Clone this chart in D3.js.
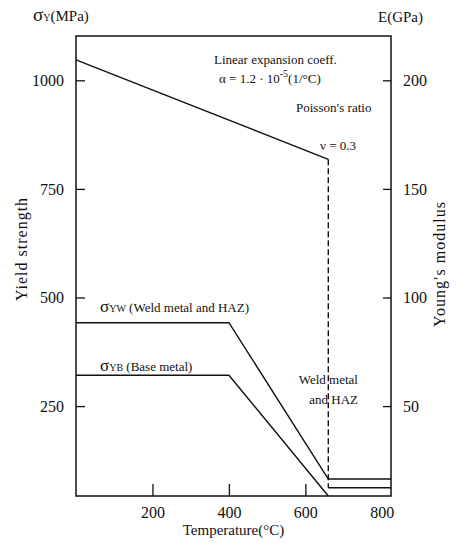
<!DOCTYPE html>
<html>
<head>
  <style>
    body{ margin:0; background:#fff; }
    svg text{ font-family:"Liberation Serif", "Times New Roman", serif; }
    .tick text{ font-size:16px; fill:#111; }
    .tick line{ stroke:#111; stroke-width:1.3; }
    .note{ font-size:13px; fill:#111; }
    .curve{ fill:none; stroke:#111; stroke-width:1.4; }
  </style>
  <script src="https://d3js.org/d3.v7.min.js"></script>
</head>
<body>
<div class="chart"></div>
<script>
// temperature (deg C) and yield strength (MPa)
const weldTemp = [0, 400, 660, 824];
const weldStress = [442, 442, 82, 82];
const baseTemp = [0, 400, 660];
const baseStress = [321, 321, 43];
// Young's modulus (GPa)
const youngTemp = [0, 660];
const youngE = [209.4, 163.6];
const youngDropTemp = [660, 660];
const youngDropE = [163.6, 12.4];
const youngTailTemp = [660, 824];
const youngTailE = [12.4, 12.4];

const tempTicks = [200, 400, 600, 800];
const stressTicks = [250, 500, 750, 1000];
const modulusTicks = [50, 100, 150, 200];

const serif = '"Liberation Serif", "Times New Roman", serif';
const width = 456, height = 559;
const m = {left:76, top:36, right:391, bottom:496};

const svg = d3.select('.chart').append('svg')
  .attr('width', width)
  .attr('height', height)
  .attr('font-family', serif);

const x = d3.scaleLinear().domain([0, 824]).range([m.left, m.right]);
const y = d3.scaleLinear().domain([43, 1102]).range([m.bottom, m.top]);
const yE = d3.scaleLinear().domain([43/5, 1102/5]).range([m.bottom, m.top]);

function tidy(g){
  g.attr('font-family', serif).attr('font-size', 16);
  g.select('.domain').remove();
}

svg.append('g')
  .attr('transform', `translate(0,${m.bottom})`)
  .call(d3.axisBottom(x).tickValues(tempTicks).tickFormat(d3.format('d'))
    .tickSizeInner(-12).tickSizeOuter(0).tickPadding(11))
  .call(tidy)
  .call(g=>g.selectAll('.tick').filter(d=>d === 800).select('line').remove());

svg.append('g')
  .attr('transform', `translate(${m.left},0)`)
  .call(d3.axisLeft(y).tickValues(stressTicks).tickFormat(d3.format('d'))
    .tickSizeInner(-9).tickSizeOuter(0).tickPadding(12))
  .call(tidy);

svg.append('g')
  .attr('transform', `translate(${m.right},0)`)
  .call(d3.axisRight(yE).tickValues(modulusTicks).tickFormat(d3.format('d'))
    .tickSizeInner(-8).tickSizeOuter(0).tickPadding(12))
  .call(tidy);

// frame
svg.append('rect')
  .attr('x', m.left).attr('y', m.top)
  .attr('width', m.right - m.left).attr('height', m.bottom - m.top)
  .attr('fill', 'none').attr('stroke', '#111').attr('stroke-width', 1.5);

const lineS = d3.line().x(d=>x(d[0])).y(d=>y(d[1]));
const lineE = d3.line().x(d=>x(d[0])).y(d=>yE(d[1]));

svg.append('path').attr('class','curve').attr('d', lineS(d3.zip(weldTemp, weldStress)));
svg.append('path').attr('class','curve').attr('d', lineS(d3.zip(baseTemp, baseStress)));
svg.append('path').attr('class','curve').attr('d', lineE(d3.zip(youngTemp, youngE)));
svg.append('path').attr('class','curve').attr('stroke-dasharray', '6,3')
  .attr('d', lineE(d3.zip(youngDropTemp, youngDropE)));
svg.append('path').attr('class','curve').attr('d', lineE(d3.zip(youngTailTemp, youngTailE)));

// axis titles
const t1 = svg.append('text').attr('x', 33).attr('y', 21).attr('fill', '#111');
t1.append('tspan').attr('font-size', 19).text('σ');
t1.append('tspan').attr('font-size', 10).text('Y');
t1.append('tspan').attr('font-size', 15).text('(MPa)');

svg.append('text').attr('x', 378).attr('y', 22).attr('font-size', 15).attr('fill', '#111').text('E(GPa)');

svg.append('text')
  .attr('x', (m.left + m.right) / 2).attr('y', 535)
  .attr('text-anchor', 'middle').attr('font-size', 15).attr('fill', '#111')
  .text('Temperature(°C)');

svg.append('text')
  .attr('transform', 'translate(27,249) rotate(-90)')
  .attr('text-anchor', 'middle').attr('font-size', 16).attr('letter-spacing', 1).attr('fill', '#111')
  .text('Yield  strength');

svg.append('text')
  .attr('transform', 'translate(445,264) rotate(-90)')
  .attr('text-anchor', 'middle').attr('font-size', 16).attr('letter-spacing', 1).attr('fill', '#111')
  .text('Young′s  modulus');

// notes
svg.append('text').attr('class','note').attr('x', 214).attr('y', 64).text('Linear expansion coeff.');
const a = svg.append('text').attr('class','note').attr('x', 219).attr('y', 83);
a.append('tspan').text('α = 1.2 · 10');
a.append('tspan').attr('dy', -6).attr('font-size', 10).text('-5');
a.append('tspan').attr('dy', 6).text('(1/°C)');

svg.append('text').attr('class','note').attr('x', 296).attr('y', 112).text('Poisson′s  ratio');
svg.append('text').attr('class','note').attr('x', 320).attr('y', 150).text('ν = 0.3');

const w = svg.append('text').attr('class','note').attr('x', 100).attr('y', 312);
w.append('tspan').attr('font-size', 17).text('σ');
w.append('tspan').attr('font-size', 10).text('YW');
w.append('tspan').text(' (Weld metal and HAZ)');

const b = svg.append('text').attr('class','note').attr('x', 100).attr('y', 371);
b.append('tspan').attr('font-size', 17).text('σ');
b.append('tspan').attr('font-size', 10).text('YB');
b.append('tspan').text(' (Base metal)');

svg.append('text').attr('class','note').attr('x', 358).attr('y', 384).attr('text-anchor','end').text('Weld metal');
svg.append('text').attr('class','note').attr('x', 358).attr('y', 404).attr('text-anchor','end').text('and HAZ');
</script>
</body>
</html>
